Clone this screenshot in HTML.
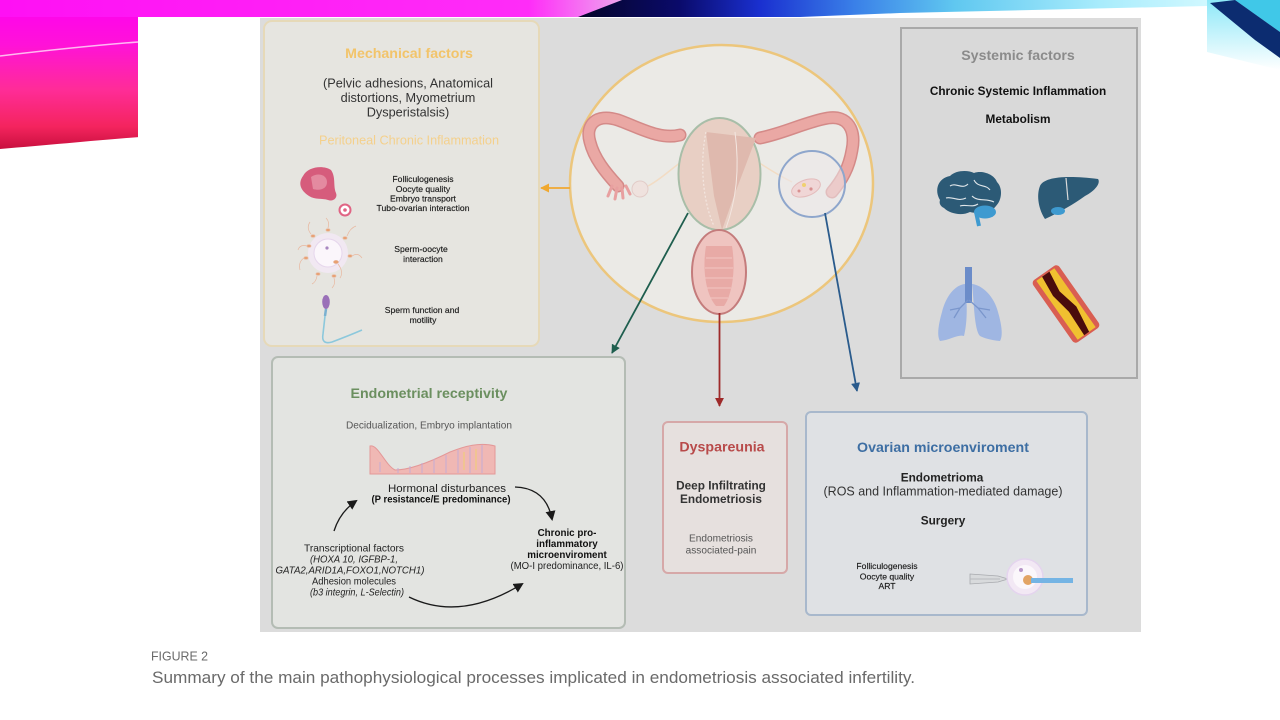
<!DOCTYPE html>
<html><head><meta charset="utf-8"><style>
html,body{margin:0;padding:0;background:#fff;}
svg{display:block;}
text{font-family:"Liberation Sans",Arial,sans-serif;}
</style></head><body>
<svg width="1280" height="720" viewBox="0 0 1280 720" xmlns="http://www.w3.org/2000/svg">
<defs>
<linearGradient id="lsw" x1="0" y1="0" x2="0" y2="1">
<stop offset="0" stop-color="#ff00f2"/><stop offset="0.3" stop-color="#ff12d8"/>
<stop offset="0.6" stop-color="#ff2c98"/><stop offset="0.85" stop-color="#f4245e"/><stop offset="1" stop-color="#c8103e"/>
</linearGradient>
<linearGradient id="mag" x1="0" y1="0" x2="1" y2="0">
<stop offset="0" stop-color="#ff10f4"/><stop offset="0.85" stop-color="#ff2cf8"/><stop offset="1" stop-color="#eea6ee"/>
</linearGradient>
<linearGradient id="blu" x1="578" y1="0" x2="1207" y2="0" gradientUnits="userSpaceOnUse">
<stop offset="0" stop-color="#050528"/><stop offset="0.16" stop-color="#0a0a6a"/>
<stop offset="0.29" stop-color="#1a30d0"/><stop offset="0.44" stop-color="#3a80e8"/>
<stop offset="0.6" stop-color="#60c8f0"/><stop offset="0.83" stop-color="#a8ecfc"/><stop offset="1" stop-color="#d0f8ff"/>
</linearGradient>
<linearGradient id="rc" x1="0" y1="0" x2="0" y2="1">
<stop offset="0" stop-color="#8ee8f8"/><stop offset="1" stop-color="#ffffff"/>
</linearGradient>
<marker id="mG" viewBox="0 0 10 10" refX="9" refY="5" markerWidth="9" markerHeight="9" markerUnits="userSpaceOnUse" orient="auto"><path d="M0,0 L10,5 L0,10 z" fill="#1e5e4e"/></marker>
<marker id="mR" viewBox="0 0 10 10" refX="9" refY="5" markerWidth="9" markerHeight="9" markerUnits="userSpaceOnUse" orient="auto"><path d="M0,0 L10,5 L0,10 z" fill="#9e2a2a"/></marker>
<marker id="mB" viewBox="0 0 10 10" refX="9" refY="5" markerWidth="9" markerHeight="9" markerUnits="userSpaceOnUse" orient="auto"><path d="M0,0 L10,5 L0,10 z" fill="#2a5b8c"/></marker>
<marker id="mO" viewBox="0 0 10 10" refX="9" refY="5" markerWidth="9" markerHeight="9" markerUnits="userSpaceOnUse" orient="auto"><path d="M0,0 L10,5 L0,10 z" fill="#f0a830"/></marker>
<marker id="mK" viewBox="0 0 10 10" refX="8" refY="5" markerWidth="10" markerHeight="10" markerUnits="userSpaceOnUse" orient="auto"><path d="M0,0 L10,5 L0,10 z" fill="#1a1a1a"/></marker>
</defs>

<!-- slide decorations -->
<rect x="0" y="0" width="1280" height="720" fill="#fff"/>
<path d="M0,0 H140 V137 C100,140 50,145 0,149 Z" fill="url(#lsw)"/>
<path d="M0,56 C50,50 100,45 138,42" stroke="#fff" stroke-opacity="0.7" stroke-width="1.5" fill="none"/>
<polygon points="0,0 622,0 580,17 0,17" fill="url(#mag)"/>
<polygon points="578,17 622,0 1207,0 1207,6 900,13 800,17" fill="url(#blu)"/>
<polygon points="1207,0 1280,0 1280,70 1207,52" fill="url(#rc)"/>
<polygon points="1235,0 1280,0 1280,32" fill="#40c8e8"/>
<polygon points="1210,3 1235,0 1280,32 1280,58 1255,40" fill="#0c2c70"/>
<rect x="138" y="17" width="1069" height="703" fill="#fff"/>

<!-- figure background -->
<rect x="260" y="18" width="881" height="614" fill="#dcdcdc"/>

<!-- Mechanical box -->
<rect x="264" y="21" width="275" height="325" rx="8" fill="#e6e5e0" stroke="#e6d9b8" stroke-width="2"/>
<text x="409" y="58" text-anchor="middle" font-size="14.2" font-weight="bold" fill="#f2c46a">Mechanical factors</text>
<text x="408" y="87.5" text-anchor="middle" font-size="12.7" fill="#333" textLength="170">(Pelvic adhesions, Anatomical</text>
<text x="408" y="102" text-anchor="middle" font-size="12.7" fill="#333">distortions, Myometrium</text>
<text x="408" y="116.5" text-anchor="middle" font-size="12.7" fill="#333">Dysperistalsis)</text>
<text x="409" y="144.5" text-anchor="middle" font-size="12.7" fill="#f4d08c" textLength="180">Peritoneal Chronic Inflammation</text>
<g font-size="8.6" fill="#1a1a1a" stroke="#1a1a1a" stroke-width="0.15" text-anchor="middle">
<text x="423" y="182">Folliculogenesis</text>
<text x="423" y="192">Oocyte quality</text>
<text x="423" y="201.5">Embryo transport</text>
<text x="423" y="211" textLength="93">Tubo-ovarian interaction</text>
<text x="421" y="252">Sperm-oocyte</text>
<text x="423" y="262">interaction</text>
<text x="422" y="313">Sperm function and</text>
<text x="423" y="323">motility</text>
</g>
<!-- fimbria icon -->
<path d="M303,176 C308,166 324,165 331,170 C336,177 333,186 336,193 C338,198 333,202 328,200 C322,198 315,200 309,196 C300,190 298,183 303,176 Z" fill="#d65c7c"/>
<path d="M311,177 C318,172 327,175 327,182 C327,189 320,191 313,189 Z" fill="#e48aa0"/>
<circle cx="345" cy="210" r="5.5" fill="#fff" stroke="#e06484" stroke-width="2"/>
<circle cx="345" cy="210" r="1.8" fill="#e06484"/>
<!-- oocyte icon -->
<circle cx="328" cy="253" r="20" fill="#f1e8f2"/>
<circle cx="328" cy="253" r="14" fill="#fbf6fb" stroke="#e6d6ec" stroke-width="1"/>
<circle cx="327" cy="248" r="1.6" fill="#a888c0"/>
<g fill="#e8a070" stroke="#e8b8a0" stroke-width="0.7">
<ellipse cx="336" cy="262" rx="2.5" ry="1.6"/><path d="M338,264 Q344,272 340,278" fill="none"/>
<ellipse cx="313" cy="236" rx="2" ry="1.3"/><path d="M311,234 Q306,228 310,222" fill="none"/>
<ellipse cx="345" cy="238" rx="2" ry="1.3"/><path d="M347,236 Q350,228 356,226" fill="none"/>
<ellipse cx="306" cy="258" rx="2" ry="1.3"/><path d="M304,258 Q298,262 300,270" fill="none"/>
<ellipse cx="350" cy="256" rx="2" ry="1.3"/><path d="M352,256 Q358,252 362,258" fill="none"/>
<ellipse cx="318" cy="274" rx="2" ry="1.3"/><path d="M317,276 Q316,282 312,284" fill="none"/>
<ellipse cx="328" cy="230" rx="2" ry="1.3"/><path d="M328,228 Q330,222 326,218" fill="none"/>
<ellipse cx="309" cy="246" rx="2" ry="1.3"/><path d="M307,246 Q300,244 298,250" fill="none"/>
<ellipse cx="334" cy="276" rx="2" ry="1.3"/><path d="M334,278 Q336,284 332,288" fill="none"/>
</g>
<!-- sperm icon -->
<ellipse cx="326" cy="302" rx="3.8" ry="7" fill="#9a70b8"/>
<path d="M326,309 L325,316" stroke="#7ab0d0" stroke-width="2.5"/>
<path d="M325,316 L323,334 Q321,345 332,342 Q348,336 362,330" stroke="#8cc8dc" stroke-width="1.6" fill="none"/>

<!-- Systemic box -->
<rect x="901" y="28" width="236" height="350" fill="#d9d9d9" stroke="#a9a9a9" stroke-width="2"/>
<text x="1018" y="60" text-anchor="middle" font-size="14.2" font-weight="bold" fill="#8b8b8b">Systemic factors</text>
<text x="1018" y="95" text-anchor="middle" font-size="11.8" font-weight="bold" fill="#111">Chronic Systemic Inflammation</text>
<text x="1018" y="123" text-anchor="middle" font-size="11.8" font-weight="bold" fill="#111">Metabolism</text>
<!-- brain -->
<path d="M940,200 C934,190 938,178 950,176 C956,170 968,170 974,173 C982,170 994,174 997,182 C1003,188 1002,200 996,206 C990,214 978,214 970,212 C962,216 950,214 944,208 C940,206 939,203 940,200 Z" fill="#2c5a76"/>
<path d="M950,186 C956,182 962,190 968,184 M974,180 C978,188 986,184 990,190 M946,198 C952,196 958,202 966,198 M972,196 C978,202 986,198 994,202 M960,206 C966,204 972,208 978,204" stroke="#e0e6ea" stroke-width="1.1" fill="none"/>
<ellipse cx="985" cy="212" rx="11" ry="6.5" fill="#3e9ad0"/>
<path d="M976,212 L979,226" stroke="#3e9ad0" stroke-width="4"/>
<!-- liver -->
<path d="M1040,186 C1044,177 1066,175 1098,179 C1101,183 1095,191 1085,196 C1074,204 1060,212 1045,219 C1039,210 1036,196 1040,186 Z" fill="#2c5a76"/>
<path d="M1066,178 L1068,200" stroke="#dadada" stroke-width="1.2"/>
<ellipse cx="1058" cy="211" rx="7" ry="4" fill="#3e9ad0"/>
<!-- lungs -->
<path d="M965,284 C955,285 946,296 942,312 C938,326 937,336 940,341 C950,340 958,334 964,336 C968,320 967,300 965,284 Z" fill="#9fb6e2"/>
<path d="M972,284 C982,285 994,296 998,312 C1002,326 1003,336 1000,341 C990,340 984,338 980,336 C974,330 974,300 972,284 Z" fill="#9fb6e2"/>
<rect x="965" y="267" width="7" height="36" fill="#6b8cc9"/>
<path d="M968,300 L960,308 L954,318 M960,308 L950,310 M969,300 L978,308 L986,318 M978,308 L990,310" stroke="#7a96cc" stroke-width="1.3" fill="none"/>
<!-- artery -->
<g transform="rotate(-35 1066 304)">
<rect x="1050" y="266" width="32" height="76" rx="4" fill="#d8483a" opacity="0.85"/>
<rect x="1055" y="268" width="22" height="72" fill="#f0c030"/>
<path d="M1062,268 L1071,268 L1068,290 L1073,312 L1069,340 L1063,340 L1064,312 L1060,290 Z" fill="#4a0c0c"/>
</g>

<!-- Central circle & uterus -->
<ellipse cx="721.5" cy="183.5" rx="151.5" ry="138.5" fill="#ebeae6" stroke="#ecc67c" stroke-width="2.5"/>
<path d="M680,135 C660,140 640,128 618,120 C596,113 585,125 590,142 C594,158 605,172 618,186" stroke="#d48a88" stroke-width="13" fill="none" stroke-linecap="round"/>
<path d="M680,135 C660,140 640,128 618,120 C596,113 585,125 590,142 C594,158 605,172 618,186" stroke="#eaa8a4" stroke-width="10" fill="none" stroke-linecap="round"/>
<path d="M612,186 L608,196 M617,188 L615,199 M622,188 L623,198 M626,186 L630,194" stroke="#e8a0a0" stroke-width="3" stroke-linecap="round"/>
<path d="M648,186 C660,180 672,168 684,160" stroke="#f2dcc4" stroke-width="1.5" fill="none"/>
<circle cx="640" cy="189" r="8" fill="#efe2de" stroke="#e2ccc8" stroke-width="1"/>
<path d="M760,138 C785,133 805,122 828,118 C848,115 856,130 852,150 C849,168 842,180 832,192" stroke="#d48a88" stroke-width="13" fill="none" stroke-linecap="round"/>
<path d="M760,138 C785,133 805,122 828,118 C848,115 856,130 852,150 C849,168 842,180 832,192" stroke="#eaa8a4" stroke-width="10" fill="none" stroke-linecap="round"/>
<path d="M758,162 C770,170 780,176 792,182" stroke="#f2dcc4" stroke-width="1.5" fill="none"/>
<circle cx="812" cy="184" r="33" fill="#ece8ea" fill-opacity="0.55" stroke="#8ea6cc" stroke-width="2"/>
<ellipse cx="806" cy="188" rx="15" ry="8" transform="rotate(-20 806 188)" fill="#f0d6d6" stroke="#e4bcbc" stroke-width="1"/>
<circle cx="804" cy="185" r="2" fill="#f0d070"/><circle cx="811" cy="189" r="1.6" fill="#d89090"/><circle cx="799" cy="191" r="1.5" fill="#d89090"/>
<ellipse cx="719.5" cy="174" rx="41" ry="56" fill="#e8cfc4" stroke="#a8bea8" stroke-width="2"/>
<path d="M706,132 L756,138 L734,196 L722,230 L714,196 Z" fill="#dfb9ae"/>
<path d="M706,132 C700,160 702,200 714,226" stroke="#f3e6e0" stroke-width="1.2" fill="none" stroke-dasharray="2 2"/>
<path d="M735,132 C740,170 736,200 726,228" stroke="#f3e6e0" stroke-width="1" fill="none"/>
<ellipse cx="719" cy="272" rx="27" ry="42" fill="#efc4c0" stroke="#c47c7c" stroke-width="2"/>
<path d="M706,246 C702,270 706,295 716,306 L724,306 C732,295 736,270 732,246 Z" fill="#e8aaa6"/>
<path d="M706,258 H732 M705,268 H733 M705,278 H733 M707,288 H731 M710,298 H728" stroke="#f2c6c2" stroke-width="1"/>

<!-- connectors -->
<line x1="570" y1="188" x2="541" y2="188" stroke="#f0a830" stroke-width="1.8" marker-end="url(#mO)"/>
<line x1="688" y1="213" x2="612" y2="353" stroke="#1e5e4e" stroke-width="1.8" marker-end="url(#mG)"/>
<line x1="719.5" y1="313" x2="719.5" y2="406" stroke="#9e2a2a" stroke-width="1.8" marker-end="url(#mR)"/>
<line x1="825" y1="213" x2="857" y2="391" stroke="#2a5b8c" stroke-width="1.8" marker-end="url(#mB)"/>

<!-- Endometrial box -->
<rect x="272" y="357" width="353" height="271" rx="6" fill="#e3e4e1" stroke="#b4bcb4" stroke-width="2"/>
<text x="429" y="398" text-anchor="middle" font-size="14.2" font-weight="bold" fill="#6b8f5f">Endometrial receptivity</text>
<text x="429" y="428.5" text-anchor="middle" font-size="10.1" fill="#555" textLength="166">Decidualization, Embryo implantation</text>
<path d="M370,446 C378,444 385,465 395,470 C410,470 430,462 450,452 C465,446 480,442 495,446 L495,474 L370,474 Z" fill="#f0b8b4" stroke="#e39898" stroke-width="1"/>
<g stroke="#c4acd6" stroke-width="1.2" opacity="0.8">
<line x1="380" y1="462" x2="380" y2="472"/><line x1="398" y1="468" x2="398" y2="473"/>
<line x1="410" y1="466" x2="410" y2="473"/><line x1="422" y1="463" x2="422" y2="473"/>
<line x1="434" y1="459" x2="434" y2="473"/><line x1="446" y1="455" x2="446" y2="473"/>
<line x1="458" y1="450" x2="458" y2="473"/><line x1="470" y1="447" x2="470" y2="473"/>
<line x1="482" y1="445" x2="482" y2="473"/>
</g>
<g stroke="#f0d070" stroke-width="1.2" opacity="0.8">
<line x1="464" y1="452" x2="464" y2="470"/><line x1="476" y1="449" x2="476" y2="470"/>
</g>
<text x="447" y="491.8" text-anchor="middle" font-size="11.3" fill="#222" textLength="118" lengthAdjust="spacingAndGlyphs">Hormonal disturbances</text>
<text x="441" y="502.5" text-anchor="middle" font-size="10" font-weight="bold" fill="#111" textLength="139" lengthAdjust="spacingAndGlyphs">(P resistance/E predominance)</text>
<g font-size="10.2" fill="#222" text-anchor="middle">
<text x="354" y="551.5" textLength="100" lengthAdjust="spacingAndGlyphs">Transcriptional factors</text>
<text x="354" y="562.5" font-style="italic" textLength="88" lengthAdjust="spacingAndGlyphs">(HOXA 10, IGFBP-1,</text>
<text x="350" y="573.5" font-style="italic" textLength="149" lengthAdjust="spacingAndGlyphs">GATA2,ARID1A,FOXO1,NOTCH1)</text>
<text x="354" y="584.5" textLength="84" lengthAdjust="spacingAndGlyphs">Adhesion molecules</text>
<text x="357" y="595.5" font-style="italic" textLength="94" lengthAdjust="spacingAndGlyphs">(b3 integrin, L-Selectin)</text>
</g>
<g font-size="9.8" fill="#222" text-anchor="middle">
<text x="567" y="536" font-weight="bold" fill="#111">Chronic pro-</text>
<text x="567" y="547" font-weight="bold" fill="#111">inflammatory</text>
<text x="567" y="558" font-weight="bold" fill="#111">microenviroment</text>
<text x="567" y="569" textLength="113" lengthAdjust="spacingAndGlyphs">(MO-I predominance, IL-6)</text>
</g>
<path d="M334,531 Q340,512 356,501" stroke="#1a1a1a" stroke-width="1.3" fill="none" marker-end="url(#mK)"/>
<path d="M515,487 Q546,488 552,519" stroke="#1a1a1a" stroke-width="1.3" fill="none" marker-end="url(#mK)"/>
<path d="M409,597 Q460,622 522,584" stroke="#1a1a1a" stroke-width="1.3" fill="none" marker-end="url(#mK)"/>

<!-- Dyspareunia box -->
<rect x="663" y="422" width="124" height="151" rx="5" fill="#e6e0de" stroke="#d6a8a8" stroke-width="2"/>
<text x="722" y="451.7" text-anchor="middle" font-size="14.2" font-weight="bold" fill="#b84a4a">Dyspareunia</text>
<text x="721" y="489.5" text-anchor="middle" font-size="11.8" font-weight="bold" fill="#333">Deep Infiltrating</text>
<text x="721" y="503" text-anchor="middle" font-size="11.8" font-weight="bold" fill="#333">Endometriosis</text>
<text x="721" y="541.5" text-anchor="middle" font-size="10.1" fill="#555">Endometriosis</text>
<text x="721" y="553.5" text-anchor="middle" font-size="10.1" fill="#555">associated-pain</text>

<!-- Ovarian box -->
<rect x="806" y="412" width="281" height="203" rx="5" fill="#dfe1e4" stroke="#a8b8cc" stroke-width="2"/>
<text x="943" y="452" text-anchor="middle" font-size="14.2" font-weight="bold" fill="#3d6ea3">Ovarian microenviroment</text>
<text x="942" y="481.5" text-anchor="middle" font-size="11.8" font-weight="bold" fill="#222">Endometrioma</text>
<text x="943" y="495.5" text-anchor="middle" font-size="12.6" fill="#333" textLength="239" lengthAdjust="spacingAndGlyphs">(ROS and Inflammation-mediated damage)</text>
<text x="943" y="524.5" text-anchor="middle" font-size="11.8" font-weight="bold" fill="#222">Surgery</text>
<g font-size="8.6" fill="#1a1a1a" stroke="#1a1a1a" stroke-width="0.15" text-anchor="middle">
<text x="887" y="569">Folliculogenesis</text>
<text x="887" y="579.5">Oocyte quality</text>
<text x="887" y="589">ART</text>
</g>
<path d="M970,574 L998,576 L1008,579 L998,582 L970,584 Z" fill="#d8dadc" stroke="#a8aaae" stroke-width="0.8"/>
<path d="M970,579 L1000,579" stroke="#b8babe" stroke-width="1"/>
<circle cx="1025" cy="577" r="18" fill="#f2e8f4" stroke="#e4d4ee" stroke-width="1.5"/>
<circle cx="1025" cy="577" r="12" fill="#fbf7fb"/>
<circle cx="1021" cy="570" r="2" fill="#b898c8"/>
<circle cx="1028" cy="580" r="5" fill="#e2a464"/>
<rect x="1031" y="578" width="42" height="5" fill="#74b4e4"/>

<!-- caption -->
<text x="151" y="660.5" font-size="12.5" fill="#6a6a6a" textLength="57" lengthAdjust="spacingAndGlyphs">FIGURE 2</text>
<text x="152" y="683" font-size="16.8" fill="#6a6a6a" textLength="763" lengthAdjust="spacingAndGlyphs">Summary of the main pathophysiological processes implicated in endometriosis associated infertility.</text>
</svg>
</body></html>
